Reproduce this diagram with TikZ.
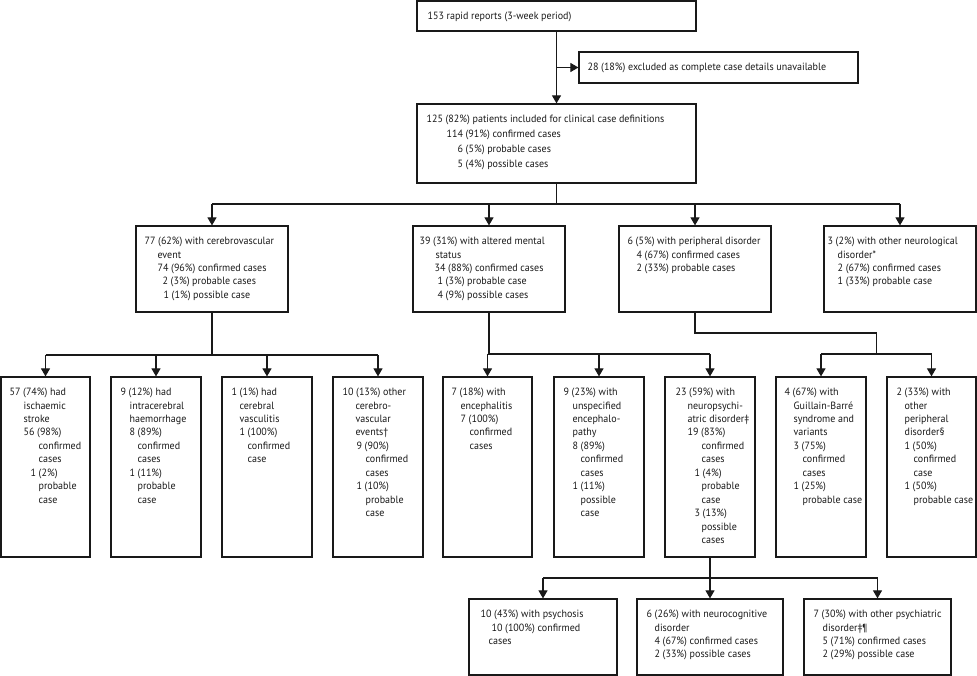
\documentclass[tikz,border=0pt]{standalone}
\usepackage{fontspec}
\setmainfont{PT Sans}[FakeStretch=0.955]
\usetikzlibrary{arrows.meta,fit,calc}
\newcommand{\I}[1]{\hspace*{#1pt}}
\tikzset{
  box/.style={draw=black!90, line width=1.2pt, inner sep=0pt},
  txt/.style={anchor=north west, inner sep=0pt, align=left, text=black!90, font=\fontsize{10.5}{13.45}\selectfont},
  conn/.style={line width=1.1pt, draw=black!90},
  arr/.style={conn, -{Triangle[width=9pt,length=8pt]}},
}
% name, x1, y1, x2, y2, dx, text
\newcommand{\boxt}[7]{%
  \coordinate (#1-a) at (#2,#3);
  \coordinate (#1-b) at (#4,#5);
  \node[box, fit=(#1-a)(#1-b)] (#1) {};
  \node[txt] (#1-t) at ([xshift=#6pt,yshift=-9pt]#1.north west) {\rule{0pt}{10pt}#7};
}
\begin{document}
\begin{tikzpicture}[x=1pt,y=-1pt]
\useasboundingbox (0,0) rectangle (977,676);

% level 0/1
\boxt{top}{417}{1}{696}{31}{11}{153 rapid reports (3-week period)}
\boxt{excl}{579}{52}{858}{83}{9}{28 (18\%) excluded as complete case details unavailable}
\boxt{incl}{417}{104}{696}{183}{10}{125 (82\%) patients included for clinical case definitions\\[1.6pt]
\I{20}114 (91\%) confirmed cases\\[1.6pt]
\I{31}6 (5\%) probable cases\\[1.6pt]
\I{31}5 (4\%) possible cases}

% level 2
\boxt{A}{136}{226}{288}{312}{9}{77 (62\%) with cerebrovascular\\
\I{13}event\\
\I{13}74 (96\%) confirmed cases\\
\I{18}2 (3\%) probable cases\\
\I{19}1 (1\%) possible case}
\boxt{B}{413}{226}{565}{312}{7}{39 (31\%) with altered mental\\
\I{16}status\\
\I{15}34 (88\%) confirmed cases\\
\I{18}1 (3\%) probable case\\
\I{18}4 (9\%) possible cases}
\boxt{C}{619}{226}{771}{312}{9}{6 (5\%) with peripheral disorder\\
\I{9}4 (67\%) confirmed cases\\
\I{9}2 (33\%) probable cases}
\boxt{D}{824}{226}{976}{312}{4}{3 (2\%) with other neurological\\
\I{10}disorder*\\
\I{10}2 (67\%) confirmed cases\\
\I{10}1 (33\%) probable case}

% level 3 left
\boxt{L1}{1}{377}{90}{557}{9}{57 (74\%) had\\
\I{14}ischaemic\\
\I{14}stroke\\
\I{14}56 (98\%)\\
\I{29}confirmed\\
\I{29}cases\\
\I{21}1 (2\%)\\
\I{29}probable\\
\I{29}case}
\boxt{L2}{111}{377}{201}{557}{10}{9 (12\%) had\\
\I{9}intracerebral\\
\I{9}haemorrhage\\
\I{9}8 (89\%)\\
\I{17}confirmed\\
\I{17}cases\\
\I{9}1 (11\%)\\
\I{17}probable\\
\I{17}case}
\boxt{L3}{222}{377}{312}{557}{10}{1 (1\%) had\\
\I{8}cerebral\\
\I{8}vasculitis\\
\I{8}1 (100\%)\\
\I{16}confirmed\\
\I{16}case}
\boxt{L4}{333}{377}{423}{557}{10}{10 (13\%) other\\
\I{13}cerebro-\\
\I{13}vascular\\
\I{13}events†\\
\I{14}9 (90\%)\\
\I{23}confirmed\\
\I{23}cases\\
\I{14}1 (10\%)\\
\I{23}probable\\
\I{23}case}

% level 3 right
\boxt{R1}{443}{377}{532}{557}{9}{7 (18\%) with\\
\I{9}encephalitis\\
\I{9}7 (100\%)\\
\I{18}confirmed\\
\I{18}cases}
\boxt{R2}{554}{377}{644}{557}{10}{9 (23\%) with\\
\I{9}unspecified\\
\I{9}encephalo-\\
\I{9}pathy\\
\I{9}8 (89\%)\\
\I{17}confirmed\\
\I{17}cases\\
\I{9}1 (11\%)\\
\I{17}possible\\
\I{17}case}
\boxt{R3}{665}{377}{755}{557}{11}{23 (59\%) with\\
\I{12}neuropsychi-\\
\I{12}atric disorder‡\\
\I{12}19 (83\%)\\
\I{26}confirmed\\
\I{26}cases\\
\I{19}1 (4\%)\\
\I{26}probable\\
\I{26}case\\
\I{19}3 (13\%)\\
\I{26}possible\\
\I{26}cases}
\boxt{R4}{776}{377}{866}{557}{9}{4 (67\%) with\\
\I{9}Guillain-Barré\\
\I{9}syndrome and\\
\I{9}variants\\
\I{9}3 (75\%)\\
\I{18}confirmed\\
\I{18}cases\\
\I{9}1 (25\%)\\
\I{18}probable case}
\boxt{R5}{887}{377}{976}{557}{10}{2 (33\%) with\\
\I{8}other\\
\I{8}peripheral\\
\I{8}disorder§\\
\I{8}1 (50\%)\\
\I{17}confirmed\\
\I{17}case\\
\I{8}1 (50\%)\\
\I{17}probable case}

% level 4
\boxt{P1}{469}{599}{617}{675}{12}{10 (43\%) with psychosis\\
\I{11}10 (100\%) confirmed\\
\I{8}cases}
\boxt{P2}{637}{599}{783}{675}{10}{6 (26\%) with neurocognitive\\
\I{8}disorder\\
\I{8}4 (67\%) confirmed cases\\
\I{8}2 (33\%) possible cases}
\boxt{P3}{804}{599}{951}{675}{10}{7 (30\%) with other psychiatric\\
\I{9}disorder‡¶\\
\I{9}5 (71\%) confirmed cases\\
\I{9}2 (29\%) possible case}

% connectors
\coordinate (h2) at (0,204);
\coordinate (hL) at (0,355);
\coordinate (hR) at (0,354);
\coordinate (hC) at (0,333);
\coordinate (hP) at (0,578);
\coordinate (m45) at ($(R4.north)!0.5!(R5.north)$);

\draw[arr] (top.south) -- (incl.north);
\draw[arr] (top.south |- excl.west) -- (excl.west);

\draw[conn] (incl.south) -- (incl.south |- h2);
\draw[conn] (A.north |- h2) -- (D.north |- h2);
\foreach \n in {A,B,C,D} {\draw[arr] (\n.north |- h2) -- (\n.north);}

\draw[conn] (A.south) -- (A.south |- hL);
\draw[conn] (L1.north |- hL) -- (L4.north |- hL);
\foreach \n in {L1,L2,L3,L4} {\draw[arr] (\n.north |- hL) -- (\n.north);}

\draw[conn] (B.south) -- (B.south |- hR);
\draw[conn] (R1.north |- hR) -- (R3.north |- hR);
\foreach \n in {R1,R2,R3} {\draw[arr] (\n.north |- hR) -- (\n.north);}

\draw[conn] (C.south) -- (C.south |- hC) -- (m45 |- hC) -- (m45 |- hR);
\draw[conn] (R4.north |- hR) -- (R5.north |- hR);
\foreach \n in {R4,R5} {\draw[arr] (\n.north |- hR) -- (\n.north);}

\draw[conn] (R3.south) -- (R3.south |- hP);
\draw[conn] (P1.north |- hP) -- (P3.north |- hP);
\foreach \n in {P1,P2,P3} {\draw[arr] (\n.north |- hP) -- (\n.north);}
\end{tikzpicture}
\end{document}
